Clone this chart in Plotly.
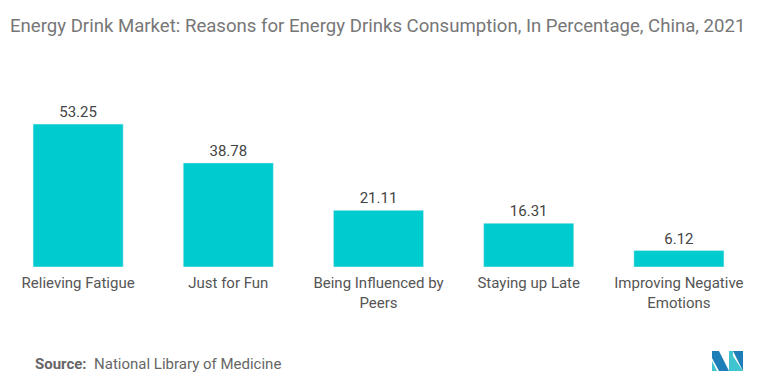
import plotly.graph_objects as go

categories = ["Relieving Fatigue", "Just for Fun", "Being Influenced by<br>Peers",
              "Staying up Late", "Improving Negative<br>Emotions"]
values = [53.25, 38.78, 21.11, 16.31, 6.12]
value_labels = ["53.25", "38.78", "21.11", "16.31", "6.12"]

W, H = 767, 386
L, R, T, B = 3, 13, 106, 119
fig = go.Figure(go.Bar(
    x=categories, y=values, text=value_labels, textposition="outside",
    marker=dict(color="#00CCD0"), cliponaxis=False,
    textfont=dict(size=15, color="#444444", family="Roboto"),
))

fig.update_layout(
    width=W, height=H,
    margin=dict(l=L, r=R, t=T, b=B),
    plot_bgcolor="white", paper_bgcolor="white",
    bargap=0.4, showlegend=False,
    font=dict(family="Roboto", color="#555555"),
    title=dict(text="Energy Drink Market: Reasons for Energy Drinks Consumption, In Percentage, China, 2021",
               x=0.013, xanchor="left", y=0.935, yanchor="middle",
               font=dict(size=18.6, color="#777777", family="Roboto")),
    xaxis=dict(showgrid=False, showline=False, ticks="", ticklabelstandoff=5,
               tickfont=dict(size=15, color="#555555")),
    yaxis=dict(visible=False, range=[0, 60]),
)

pw, ph = W - L - R, H - T - B
fig.add_annotation(text="<b>Source:</b>  National Library of Medicine", xref="paper", yref="paper",
                   x=(33 - L) / pw, xanchor="left", y=-(364 - (H - B)) / ph, yanchor="middle",
                   showarrow=False, font=dict(size=15, color="#666666", family="Roboto"))

# logo (decoration)
ox = lambda x: (x - L) / pw
oy = lambda y: ((H - B) - y) / ph
def pshape(pts, color):
    d = "M " + " L ".join(f"{ox(x)},{oy(y)}" for x, y in pts) + " Z"
    fig.add_shape(type="path", xref="paper", yref="paper", path=d,
                  fillcolor=color, line=dict(width=0))
pshape([(712, 351), (719, 351), (729, 371), (719, 371), (712, 358)], "#1E7FB8")
pshape([(712, 361), (712, 371), (717, 371)], "#3FC5D0")
pshape([(729, 351), (733, 351), (733, 371), (729, 371)], "#3FC5D0")
pshape([(733, 351), (743, 351), (743, 371)], "#1E7FB8")
pshape([(733, 356), (743, 371), (733, 371)], "#3FC5D0")

fig.write_html("out.html", config={"displayModeBar": False},
               post_script="document.body.style.margin='0';")
